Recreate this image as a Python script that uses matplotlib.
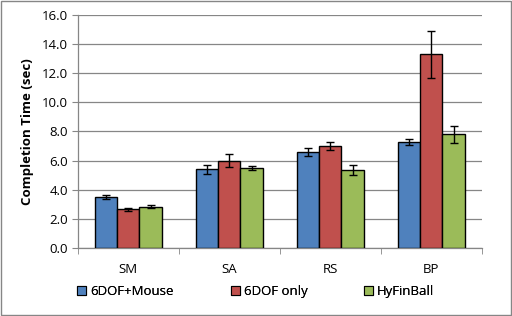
import numpy as np
import matplotlib.pyplot as plt
from matplotlib.patches import Rectangle

categorias = ['SM', 'SA', 'RS', 'BP']
series = ['6DOF+Mouse', '6DOF only', 'HyFinBall']
medias = [
    [3.5, 5.4, 6.6, 7.3],
    [2.65, 6.0, 7.0, 13.3],
    [2.85, 5.5, 5.35, 7.8],
]
erros = [
    [0.15, 0.3, 0.25, 0.2],
    [0.1, 0.45, 0.3, 1.6],
    [0.12, 0.15, 0.35, 0.6],
]
cores = ['#4f81bd', '#c0504d', '#9bbb59']

plt.rcParams['font.family'] = ['Open Sans', 'DejaVu Sans']

fig = plt.figure(figsize=(5.12, 3.16), dpi=100)
ax = fig.add_axes([0.152, 0.215, 0.789, 0.738])

x = np.arange(len(categorias))
largura = 0.22
for i, (nome, vals, err, cor) in enumerate(zip(series, medias, erros, cores)):
    pos = x + (i - 1) * largura
    ax.bar(pos, vals, largura, color=cor, edgecolor='black', linewidth=1.0,
           label=nome, zorder=3)
    ax.errorbar(pos, vals, yerr=err, fmt='none', ecolor='black',
                elinewidth=1.0, capsize=3, capthick=1.0, zorder=4)

ax.set_xlim(-0.5, len(categorias) - 0.5)
ax.set_ylim(0, 16)
ax.set_yticks(np.arange(0, 17, 2))
ax.set_yticklabels([f'{v:.1f}' for v in np.arange(0, 17, 2)], fontsize=9.5)
ax.set_xticks(x)
ax.set_xticklabels(categorias, fontsize=9.5)
ax.set_xticks(np.arange(-0.5, len(categorias), 1), minor=True)
ax.tick_params(axis='x', which='major', length=0, pad=11)
ax.tick_params(axis='x', which='minor', length=4, color='#868686', direction='out')
ax.tick_params(axis='y', length=4, color='#868686', pad=3)
ax.yaxis.grid(True, color='#868686', linewidth=0.9, zorder=0)
ax.set_axisbelow(True)
for s in ['top', 'right']:
    ax.spines[s].set_visible(False)
for s in ['left', 'bottom']:
    ax.spines[s].set_color('#868686')
    ax.spines[s].set_linewidth(0.9)

ax.set_ylabel('Completion Time (sec)', fontsize=9.5, fontweight='bold', labelpad=6)

# legenda: uma entrada por posição, como no Excel
posicoes_leg = [0.150, 0.451, 0.711]
for nome, cor, px in zip(series, cores, posicoes_leg):
    h = Rectangle((0, 0), 1, 1, facecolor=cor, edgecolor='black', linewidth=0.8)
    leg = fig.legend([h], [nome], loc='center left', bbox_to_anchor=(px, 0.076),
                     frameon=False, fontsize=9.5, handlelength=0.7, handleheight=0.7,
                     handletextpad=0.3, borderpad=0, borderaxespad=0)
    fig.add_artist(leg)

fig.add_artist(Rectangle((0.001, 0.002), 0.997, 0.995, transform=fig.transFigure,
                         fill=False, edgecolor='#868686', linewidth=1.0))

fig.savefig('out.png', dpi=100)
